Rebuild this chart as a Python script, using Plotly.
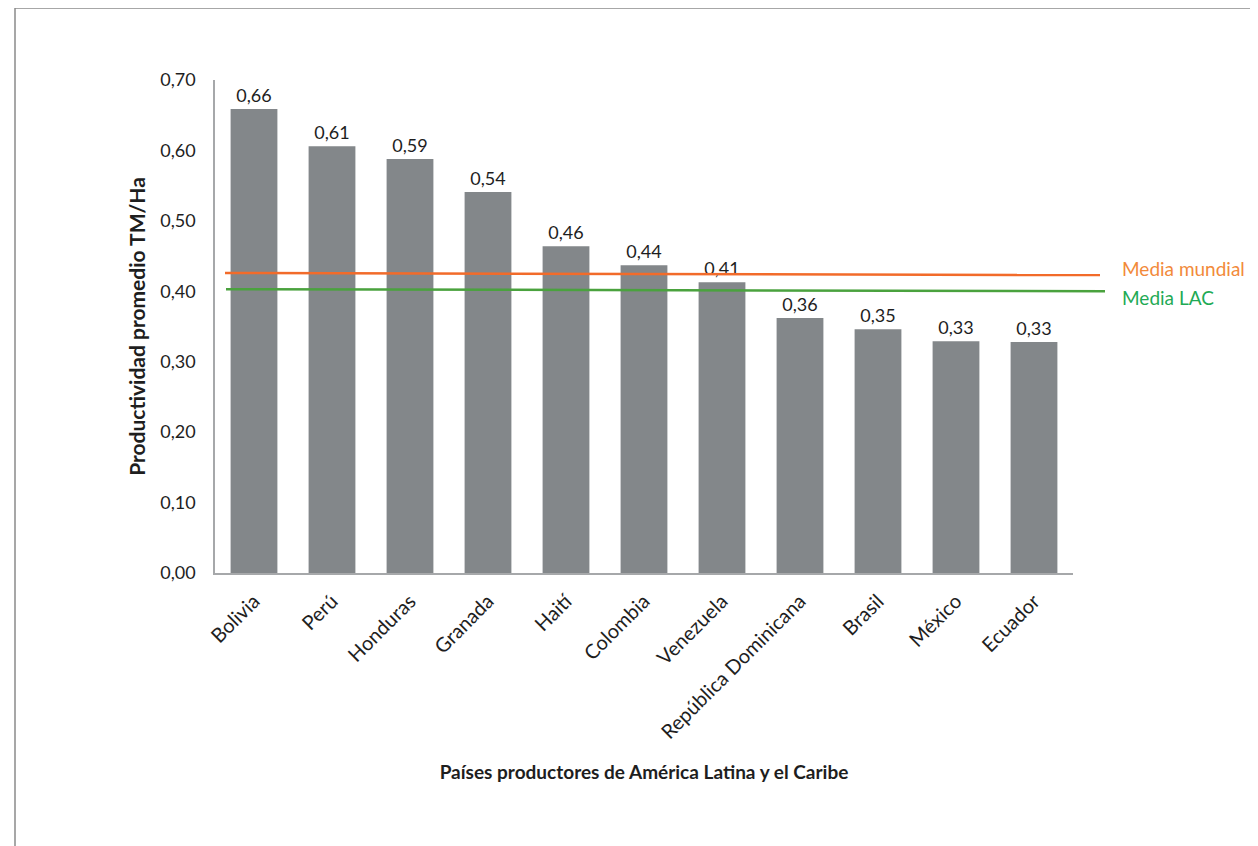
import plotly.graph_objects as go

paises = ["Bolivia", "Perú", "Honduras", "Granada", "Haití", "Colombia", "Venezuela",
          "República Dominicana", "Brasil", "México", "Ecuador"]
productividad = [0.659, 0.606, 0.588, 0.541, 0.464, 0.437, 0.413, 0.362, 0.346, 0.329, 0.328]
media_mundial = [0.426, 0.423]
media_lac = [0.403, 0.400]
y_ticks = [0.0, 0.1, 0.2, 0.3, 0.4, 0.5, 0.6, 0.7]

FONT = "Lato"
TXT = "#1e1e1e"

# screenshot-pixel geometry (page body has an 8px margin)
OFF = 8
W, H = 1258 - OFF, 846 - OFF
L, R, T, B = 215, 1073, 80, 573

fig = go.Figure()
fig.add_trace(go.Bar(
    x=paises, y=productividad,
    marker=dict(color="#83878a", line=dict(width=0)),
    texttemplate="%{y:.2f}", textposition="outside",
    textfont=dict(family=FONT, size=18, color=TXT),
    cliponaxis=False, showlegend=False,
))

fig.update_layout(
    width=W, height=H,
    margin=dict(l=L - OFF, r=(W + OFF) - R, t=T - OFF, b=(H + OFF) - B, autoexpand=False),
    paper_bgcolor="white", plot_bgcolor="white",
    separators=",.",
    bargap=0.4,
    font=dict(family=FONT, color=TXT),
    xaxis=dict(
        showgrid=False, showline=True, linecolor="#a6a8aa", linewidth=1.5,
        ticks="", tickangle=-45, tickfont=dict(size=20, color=TXT),
        ticklabelstandoff=7,
        title=dict(text="<b>Países productores de América Latina y el Caribe</b>",
                   font=dict(size=19, color=TXT), standoff=24),
    ),
    yaxis=dict(
        range=[0, 0.7], tickvals=y_ticks, tickformat=".2f",
        showgrid=False, showline=True, linecolor="#a6a8aa", linewidth=1.5,
        ticks="", ticklabelstandoff=14, tickfont=dict(size=18, color=TXT),
        zeroline=False,
        title=dict(text="<b>Productividad promedio TM/Ha</b>",
                   font=dict(size=21, color=TXT), standoff=9),
    ),
)

def px_x(p):
    return (p - L) / (R - L)

def px_y(p):
    return (B - p) / (B - T)

fig.add_shape(type="line", xref="paper", yref="y", x0=px_x(225), x1=px_x(1100),
              y0=media_mundial[0], y1=media_mundial[1],
              line=dict(color="#f26b2a", width=2.5))
fig.add_shape(type="line", xref="paper", yref="y", x0=px_x(226), x1=px_x(1105),
              y0=media_lac[0], y1=media_lac[1],
              line=dict(color="#4aa23e", width=2.5))
fig.add_annotation(xref="paper", yref="y", x=px_x(1120), y=media_mundial[1] + 0.009,
                   text="Media mundial", showarrow=False, xanchor="left",
                   font=dict(family=FONT, size=19, color="#f28a3a"))
fig.add_annotation(xref="paper", yref="y", x=px_x(1120), y=media_lac[1] - 0.009,
                   text="Media LAC", showarrow=False, xanchor="left",
                   font=dict(family=FONT, size=19, color="#1faa55"))

# frame
fig.add_shape(type="line", xref="paper", yref="paper", x0=px_x(15), x1=px_x(15),
              y0=-1, y1=px_y(8), line=dict(color="#8a8a8a", width=1.5))
fig.add_shape(type="line", xref="paper", yref="paper", x0=px_x(15), x1=2,
              y0=px_y(8), y1=px_y(8), line=dict(color="#8a8a8a", width=1.5))

fig.write_html("out.html")
